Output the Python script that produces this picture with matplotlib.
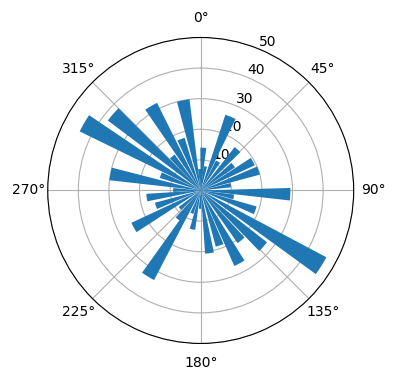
import numpy as np
import matplotlib
matplotlib.use("Agg")
import matplotlib.pyplot as plt

# bar directions (degrees, clockwise from north) and lengths
angles_deg = [3.5, 11, 22, 31, 42, 52, 61, 71, 80,
              92.4, 101, 110, 122, 132, 141, 152, 161, 172,
              182, 192, 201, 211.5, 219, 229, 241, 251, 262.5,
              271, 280.4, 291, 300, 311, 320, 329.5, 339, 349, 357]
radii = [14, 8, 26, 11, 18, 13.5, 19.5, 20, 10,
         29.3, 11, 19, 46.5, 27.5, 21, 27, 19, 20.7,
         6, 13, 8, 33, 12, 9, 25, 15.5, 17.8,
         9, 30, 14, 44, 38, 14.5, 32, 18, 30, 7]
bar_width_deg = 8.0
r_ticks = [10, 20, 30, 40, 50]

fig = plt.figure(figsize=(3.96, 3.80), dpi=100)
ax = fig.add_axes([0.1205, 0.0961, 0.7727, 0.8053], projection="polar")
ax.set_theta_zero_location("N")
ax.set_theta_direction(-1)
ax.set_axisbelow(True)
ax.bar(np.deg2rad(angles_deg), radii, width=np.deg2rad(bar_width_deg),
       color="#1f77b4")
ax.set_ylim(0, 50)
ax.set_yticks(r_ticks)
ax.grid(True)
fig.savefig("out.png", dpi=100)
